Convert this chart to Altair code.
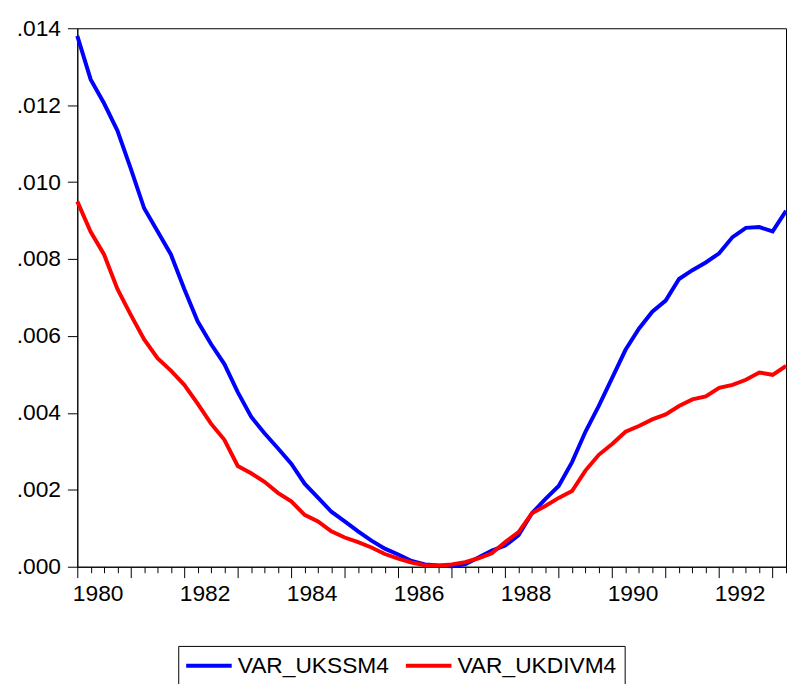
import altair as alt
import pandas as pd

# Quarterly observations 1980Q1 .. 1993Q2
start_year = 1980
n_obs = 54
quarters = [start_year + i / 4 for i in range(n_obs)]

series_names = ["VAR_UKSSM4", "VAR_UKDIVM4"]
series_colors = ["#0000FF", "#FF0000"]

var_ukssm4 = [
    13.80, 12.67, 12.05, 11.34, 10.35, 9.32, 8.72, 8.12,
    7.22, 6.38, 5.79, 5.27, 4.54, 3.90, 3.47, 3.08,
    2.68, 2.16, 1.80, 1.43, 1.18, 0.92, 0.68, 0.47,
    0.32, 0.15, 0.06, 0.03, 0.01, 0.06, 0.24, 0.42,
    0.55, 0.82, 1.39, 1.76, 2.10, 2.72, 3.51, 4.18,
    4.91, 5.64, 6.19, 6.63, 6.92, 7.48, 7.71, 7.91,
    8.15, 8.57, 8.81, 8.83, 8.72, 9.25,
]
var_ukdivm4 = [
    9.50, 8.71, 8.12, 7.22, 6.55, 5.91, 5.42, 5.10,
    4.73, 4.24, 3.72, 3.30, 2.62, 2.43, 2.21, 1.92,
    1.70, 1.35, 1.18, 0.92, 0.76, 0.64, 0.50, 0.33,
    0.21, 0.11, 0.04, 0.03, 0.06, 0.12, 0.22, 0.35,
    0.64, 0.90, 1.39, 1.58, 1.79, 1.97, 2.50, 2.91,
    3.19, 3.51, 3.66, 3.83, 3.96, 4.18, 4.35, 4.43,
    4.65, 4.73, 4.86, 5.05, 4.99, 5.22,
]

y_ticks = [0.000, 0.002, 0.004, 0.006, 0.008, 0.010, 0.012, 0.014]

rows = []
for name, vals in zip(series_names, [var_ukssm4, var_ukdivm4]):
    for q, v in zip(quarters, vals):
        rows.append({"date": q, "value": v / 1000.0, "series": name})
df = pd.DataFrame(rows)

FONT = "Liberation Sans"

chart = (
    alt.Chart(df)
    .mark_line(strokeWidth=4)
    .encode(
        x=alt.X(
            "date:Q",
            scale=alt.Scale(domain=[quarters[0], quarters[-1]], nice=False, zero=False),
            axis=alt.Axis(
                title=None,
                values=quarters,
                labelExpr="datum.value % 2 === 0 ? format(datum.value, 'd') : ''",
                tickSize={"condition": {"test": "datum.value % 1 === 0", "value": 11}, "value": 6},
                labelAlign="left",
                labelOffset=-5,
                labelFlush=False,
                labelOverlap=False,
                labelPadding=5,
                labelFont=FONT,
                labelFontSize=23,
                labelColor="black",
                domainColor="black",
                tickColor="black",
                grid=False,
            ),
        ),
        y=alt.Y(
            "value:Q",
            scale=alt.Scale(domain=[0, 0.014], nice=False),
            axis=alt.Axis(
                title=None,
                values=y_ticks,
                labelExpr="substring(format(datum.value, '.3f'), 1)",
                tickSize=10,
                labelPadding=7,
                labelFont=FONT,
                labelFontSize=23,
                labelColor="black",
                domainColor="black",
                tickColor="black",
                grid=False,
            ),
        ),
        color=alt.Color(
            "series:N",
            scale=alt.Scale(domain=series_names, range=series_colors),
            sort=series_names,
            legend=alt.Legend(
                title=None,
                orient="none",
                legendX=102,
                legendY=624,
                direction="horizontal",
                strokeColor="black",
                fillColor="white",
                padding=8,
                gridAlign="each",
                symbolType="M-2.3,0H2.3",
                symbolSize=400,
                symbolStrokeWidth=4,
                symbolOffset=11,
                labelOffset=17,
                labelFont=FONT,
                labelFontSize=23,
                labelColor="black",
                labelLimit=400,
                columnPadding=9,
            ),
        ),
    )
    .properties(
        width=716,
        height=544,
        background="white",
        autosize=alt.AutoSizeParams(type="none"),
        padding={"left": 70, "top": 17, "right": 1, "bottom": 115},
    )
    .configure_view(stroke="black", strokeWidth=1)
)

chart.save("out.html", embed_options={"renderer": "svg", "actions": False})
